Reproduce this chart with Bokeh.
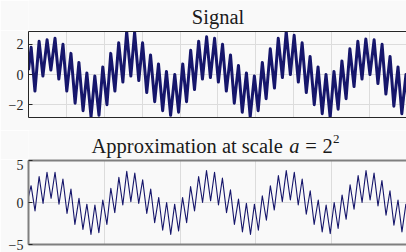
from bokeh.plotting import figure
from bokeh.models import Range1d, FixedTicker, LinearAxis, Label
from bokeh.layouts import column
from bokeh.embed import file_html
from bokeh.resources import INLINE

# ---- data (extrema of the oscillation) ----
sig_x = [0, 7, 17, 28, 38, 49, 59, 70, 80, 91, 101, 112, 123, 133, 144, 154, 165, 175, 186, 196,
         207, 217, 228, 238, 249, 259, 270, 280, 291, 301, 312, 322, 333, 343, 354, 364, 375, 386,
         396, 407, 417, 428, 438, 449, 459, 470, 480, 491, 501, 512, 522, 533, 543, 554, 564, 575,
         585, 596, 606, 617, 627, 638, 649, 659, 670, 680, 691, 701, 712, 722, 733, 743, 754, 764,
         775, 785, 796, 806, 817, 827, 838, 848, 859, 869, 880, 890, 901, 912, 922, 933, 943, 954,
         964, 975, 985, 996, 1000]
sig_y = [0.3, 1.8, -1.1, 2.2, -0.1, 2.3, 0.3, 2.4, -0.3, 2.0, -1.1, 1.4, -1.9, 0.8, -2.4, 0.1,
         -2.8, -0.1, -2.7, 0.5, -2.0, 1.4, -1.1, 2.1, -0.5, 2.85, -0.1, 2.8, -0.4, 2.1, -1.2, 1.3,
         -1.8, 0.7, -2.4, 0.2, -2.7, 0.0, -2.5, 0.7, -1.8, 1.6, -1.0, 2.2, -0.3, 2.5, -0.2, 2.4,
         -0.5, 2.0, -1.1, 1.3, -1.9, 0.6, -2.5, 0.1, -2.8, -0.1, -2.4, 0.8, -1.6, 1.7, -0.9, 2.4,
         -0.2, 2.85, 0.0, 2.6, -0.5, 2.1, -1.2, 1.2, -2.0, 0.5, -2.6, 0.0, -2.85, 0.2, -2.3, 0.9,
         -1.6, 1.7, -0.8, 2.2, -0.3, 2.35, 0.0, 2.3, -0.6, 2.0, -1.3, 1.2, -2.1, 0.5, -2.6, 0.0, -1.4]

coef_x = [0, 1.7, 4.3, 7.0, 9.6, 12.2, 14.9, 17.5, 20.1, 22.7, 25.4, 28.0, 30.6, 33.3, 35.9, 38.5,
          41.2, 43.8, 46.4, 49.0, 51.7, 54.3, 56.9, 59.6, 62.2, 64.8, 67.5, 70.1, 72.7, 75.3, 78.0,
          80.6, 83.2, 85.9, 88.5, 91.1, 93.8, 96.4, 99.0, 101.6, 104.3, 106.9, 109.5, 112.2, 114.8,
          117.4, 120.1, 122.7, 125.3, 127.9, 130.6, 133.2, 135.8, 138.5, 141.1, 143.7, 146.4, 149.0,
          151.6, 154.2, 156.9, 159.5, 162.1, 164.8, 167.4, 170.0, 172.7, 175.3, 177.9, 180.5, 183.2,
          185.8, 188.4, 191.1, 193.7, 196.3, 199.0, 201.6, 204.2, 206.8, 209.5, 212.1, 214.7, 217.4,
          220.0, 222.6, 225.3, 227.9, 230.5, 233.1, 235.8, 238.4, 241.0, 243.7, 246.3, 248.9, 250]
coef_y = [0.7, 2.0, -1.0, 3.1, -0.1, 3.6, 0.5, 3.6, -0.2, 2.8, -1.3, 1.6, -2.6, 0.5, -3.2, -0.2,
          -3.8, -0.3, -3.6, 0.3, -2.6, 1.7, -1.2, 3.0, -0.3, 3.7, 0.1, 3.5, -0.1, 2.7, -1.3, 1.6,
          -2.4, 0.6, -3.3, 0.0, -3.8, -0.2, -3.4, 0.6, -2.4, 1.9, -1.0, 3.1, 0.0, 3.8, 0.2, 3.6,
          -0.3, 2.9, -1.2, 1.5, -2.6, 0.4, -3.5, -0.1, -3.8, -0.2, -3.3, 0.8, -2.1, 2.0, -0.9, 3.2,
          0.1, 3.8, 0.3, 3.6, -0.3, 2.8, -1.4, 1.4, -2.6, 0.3, -3.5, -0.3, -3.7, 0.0, -3.1, 0.9,
          -2.0, 2.1, -0.8, 3.2, 0.0, 3.8, 0.3, 3.5, -0.4, 2.6, -1.5, 1.4, -2.7, 0.3, -3.5, -0.2, -1.2]

sig_xticks = [0, 100, 200, 300, 400, 500, 600, 700, 800, 900, 1000]
sig_yticks = [-2, 0, 2]
coef_xticks = [0, 50, 100, 150, 200, 250]
coef_yticks = [-5, 0, 5]

title_top = "Signal"
title_bot_main = "Approximation at scale"
title_bot_var = "a"
title_bot_eq = "="
title_bot_base = "2"
title_bot_exp = "2"

BG = "#f9f9f9"
FONT = "Liberation Serif"
INK = "#262626"
TXT = "#1a1a1a"
LINE = "#16166b"
W = 406


def make_fig(height, top_b, bot_b, xr, yr, xt, yt, axis_color, axis_w):
    p = figure(width=W, height=height, x_range=Range1d(*xr), y_range=Range1d(*yr),
               output_backend="svg", toolbar_location=None,
               min_border_left=28, min_border_right=0,
               min_border_top=top_b, min_border_bottom=bot_b,
               background_fill_color=BG, border_fill_color=BG)
    p.add_layout(LinearAxis(ticker=FixedTicker(ticks=[])), "above")
    p.outline_line_color = None
    for ax in p.axis:
        ax.major_tick_in = 4
        ax.major_tick_out = 0
        ax.minor_tick_line_color = None
        ax.axis_line_color = axis_color
        ax.axis_line_width = axis_w
        ax.major_tick_line_color = INK
        ax.major_label_text_font = FONT
        ax.major_label_text_font_size = "14px"
        ax.major_label_text_color = INK
        ax.major_label_standoff = 5
    for ax in p.xaxis:
        ax.ticker = FixedTicker(ticks=[])
        ax.major_label_standoff = 0
    for ax in p.yaxis:
        ax.ticker = FixedTicker(ticks=yt)
    p.xgrid.ticker = FixedTicker(ticks=xt)
    p.ygrid.ticker = FixedTicker(ticks=yt)
    p.grid.grid_line_color = "#dcdcdc"
    p.grid.grid_line_width = 1
    return p


def strip(height):
    s = figure(width=W, height=height, x_range=Range1d(0, W), y_range=Range1d(0, height),
               output_backend="svg", toolbar_location=None,
               x_axis_location=None, y_axis_location=None, min_border=0,
               background_fill_color=BG, border_fill_color=BG)
    s.outline_line_color = None
    s.grid.visible = False
    return s


# frame of title strips is aligned with the plots (starts at x=28)
OFF = 28
DY = 6.5


def lab(s, txt, x, y, align="left", style="normal", size="20.5px"):
    s.add_layout(Label(x=x - OFF, y=y + DY, x_units="screen", y_units="screen", text=txt,
                       text_align=align, text_baseline="alphabetic", text_font=FONT,
                       text_font_style=style, text_font_size=size, text_color=TXT))


# title strip 1
s1 = strip(30)
lab(s1, title_top, 217.5, 7.3, align="center")

# top: Signal
p1 = make_fig(100, 1, 13, (0, 997.4), (-2.85, 2.85), sig_xticks, sig_yticks, INK, 1)
p1.line(sig_x, sig_y, line_color=LINE, line_width=3, line_join="round")

# title strip 2
s2 = strip(29)
ty = 7.5
lab(s2, title_bot_main, 91, ty)
lab(s2, title_bot_var, 288.8, ty, style="italic")
lab(s2, title_bot_eq, 304.8, ty)
lab(s2, title_bot_base, 322.1, ty)
lab(s2, title_bot_exp, 332.4, ty + 6.5, size="13px")

# bottom: approximation
p2 = make_fig(93, 1, 8, (0, 249.3), (-5, 5), coef_xticks, coef_yticks, "#7f7f7f", 2)
p2.line(coef_x, coef_y, line_color=LINE, line_width=1.1, line_join="round")

layout = column(s1, p1, s2, p2, spacing=0)
open("out.html", "w").write(file_html(layout, INLINE))
